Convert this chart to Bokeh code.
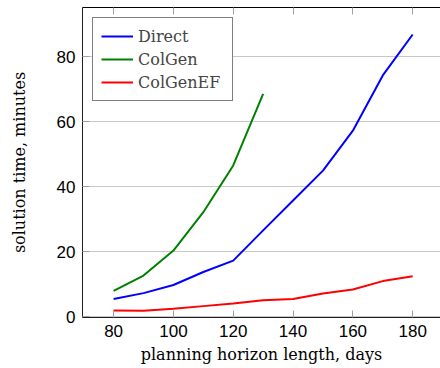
from bokeh.plotting import figure
from bokeh.models import LinearAxis, FixedTicker, Range1d, Legend, LegendItem
from bokeh.embed import file_html
from bokeh.resources import INLINE

days_direct = [80, 90, 100, 110, 120, 130, 140, 150, 160, 170, 180]
direct = [5.4, 7.2, 9.7, 13.7, 17.2, 26.5, 35.7, 44.9, 57.2, 74.2, 86.8]
days_colgen = [80, 90, 100, 110, 120, 130]
colgen = [7.9, 12.6, 20.3, 32.1, 46.5, 68.5]
days_colgenef = [80, 90, 100, 110, 120, 130, 140, 150, 160, 170, 180]
colgenef = [1.85, 1.8, 2.4, 3.2, 4.0, 5.0, 5.4, 7.1, 8.3, 10.9, 12.4]
x_ticks = [80, 100, 120, 140, 160, 180]
y_ticks = [0, 20, 40, 60, 80]

SERIF = "DejaVu Serif"
SANS = "Liberation Sans"

p = figure(width=440, height=368, output_backend="svg", toolbar_location=None,
           x_range=Range1d(69.6, 189.3), y_range=Range1d(-0.3, 95.1),
           min_border_left=82, min_border_right=0, min_border_top=7, min_border_bottom=51,
           x_axis_label="planning horizon length, days",
           y_axis_label="solution time, minutes")
p.outline_line_color = None
p.background_fill_color = "white"

p.xgrid.visible = False
p.ygrid.ticker = FixedTicker(ticks=y_ticks)
p.ygrid.grid_line_color = "#c8c8c8"
p.ygrid.grid_line_width = 1

for ax in [p.xaxis[0], p.yaxis[0]]:
    ax.major_label_text_font = SANS
    ax.major_label_text_font_size = "17px"
    ax.major_label_text_color = "black"
    ax.axis_label_text_font = SERIF
    ax.axis_label_text_font_size = "16px"
    ax.axis_label_text_font_style = "normal"
    ax.axis_label_text_color = "black"
    ax.axis_line_color = "#202020"
    ax.major_tick_in = 7
    ax.major_tick_out = 0
    ax.major_tick_line_color = "#a0a0a0"
    ax.minor_tick_line_color = None
p.xaxis[0].ticker = FixedTicker(ticks=x_ticks)
p.yaxis[0].ticker = FixedTicker(ticks=y_ticks)
p.xaxis[0].major_label_standoff = 7
p.yaxis[0].major_label_standoff = 7
p.xaxis[0].axis_label_standoff = 5
p.yaxis[0].axis_label_standoff = 25

top = LinearAxis(ticker=FixedTicker(ticks=x_ticks))
top.major_label_overrides = {t: "" for t in x_ticks}
top.major_label_standoff = 0
top.major_tick_in = 7
top.major_tick_out = 0
top.major_tick_line_color = "#a0a0a0"
top.minor_tick_line_color = None
top.axis_line_color = "black"
p.add_layout(top, "above")

r1 = p.line(days_direct, direct, line_color="#0000ff", line_width=2)
r2 = p.line(days_colgen, colgen, line_color="#008000", line_width=2)
r3 = p.line(days_colgenef, colgenef, line_color="#ff0000", line_width=2)

legend = Legend(items=[LegendItem(label="Direct", renderers=[r1]),
                       LegendItem(label="ColGen", renderers=[r2]),
                       LegendItem(label="ColGenEF", renderers=[r3])],
                location="top_left", margin=10, padding=8, spacing=3,
                glyph_width=32, glyph_height=20, label_height=20, label_width=86,
                label_standoff=5, label_text_font=SERIF, label_text_font_size="16px",
                border_line_color="black", border_line_width=1,
                background_fill_alpha=1.0)
p.add_layout(legend, "center")

open("out.html", "w").write(file_html(p, INLINE))
